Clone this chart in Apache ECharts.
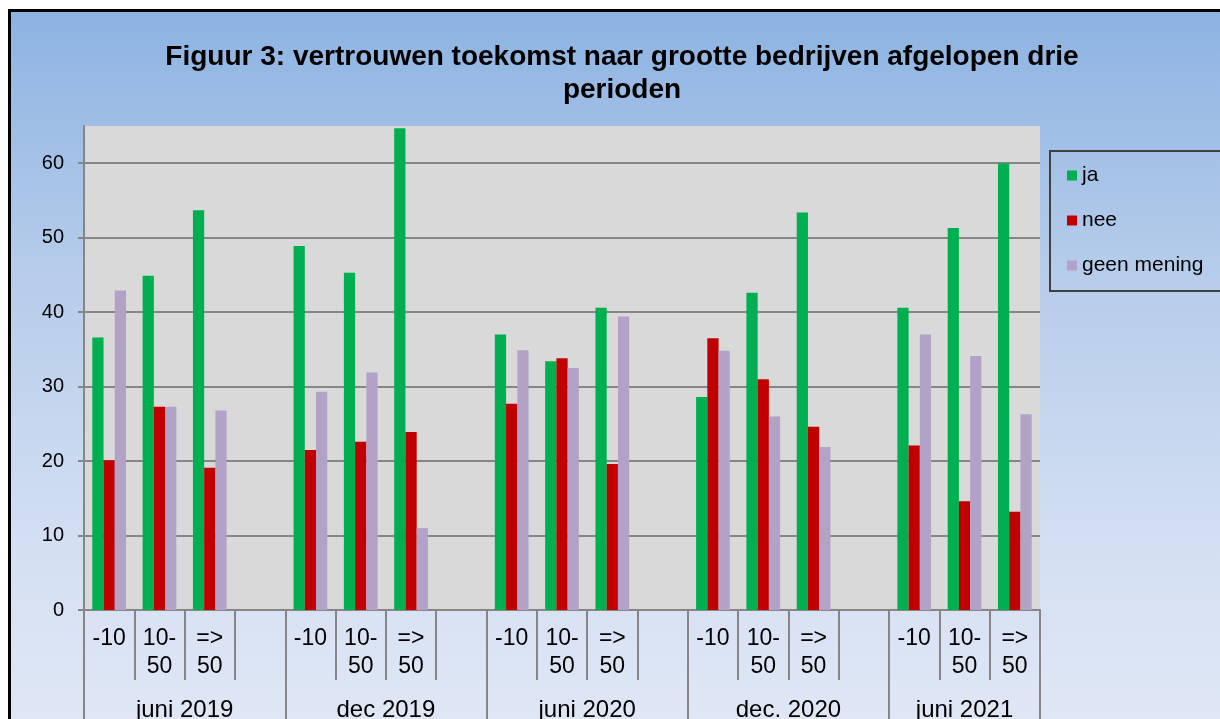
<!DOCTYPE html>
<html>
<head>
<meta charset="utf-8">
<script src="https://cdn.jsdelivr.net/npm/echarts@6/dist/echarts.min.js"></script>
<style>
  html, body { margin: 0; padding: 0; background: #fff; }
  #frame {
    position: absolute; left: 8px; top: 9px; width: 1212px; height: 710px;
    box-sizing: border-box; border-left: 3px solid #000; border-top: 3px solid #000;
    background: linear-gradient(to bottom, #8db3e2 0%, #b4cbea 35%, #d3dff2 75%, #dfe7f5 100%);
  }
  #chart { position: absolute; left: 0; top: 0; width: 1220px; height: 719px; }
</style>
</head>
<body>
<div id="frame"></div>
<div id="chart"></div>
<script>
const periods = ["juni 2019", "dec 2019", "juni 2020", "dec. 2020", "juni 2021"];
const sizeLabels = ["-10", "10-\n50", "=>\n50"];

// one value per size class, per period (null = spacer between periods)
const ja = [36.6, 44.9, 53.7, null, 48.9, 45.3, 64.7, null, 37.0, 33.4, 40.6, null, 28.6, 42.6, 53.4, null, 40.6, 51.3, 60.0];
const nee = [20.1, 27.3, 19.1, null, 21.5, 22.6, 23.9, null, 27.7, 33.8, 19.6, null, 36.5, 31.0, 24.6, null, 22.1, 14.6, 13.2];
const geenMening = [42.9, 27.3, 26.8, null, 29.3, 31.9, 11.0, null, 34.9, 32.5, 39.4, null, 34.8, 26.0, 21.9, null, 37.0, 34.1, 26.3];

const FONT = "'Liberation Sans', Arial, sans-serif";
const GRID_GRAY = "#868686";

// inner axis: size classes with a blank slot between periods
const categories = [];
periods.forEach((p, i) => {
  categories.push(...sizeLabels);
  if (i < periods.length - 1) categories.push("");
});

// outer axis: half-slot positions so period labels can sit between slots
const halfSlots = categories.length * 2 + 1;
const periodData = new Array(halfSlots).fill("");
const periodEdges = [0];
const periodCenters = [];
let start = 0;
periods.forEach((p, i) => {
  const width = i < periods.length - 1 ? sizeLabels.length + 1 : sizeLabels.length;
  const center = start * 2 + width;
  periodData[center] = p;
  periodCenters.push(center);
  start += width;
  periodEdges.push(start * 2);
});

const chart = echarts.init(document.getElementById("chart"), null, { renderer: "canvas" });
chart.setOption({
  backgroundColor: "transparent",
  animation: false,
  textStyle: { fontFamily: FONT },
  title: {
    text: "Figuur 3: vertrouwen toekomst naar grootte bedrijven afgelopen drie\nperioden",
    left: 622,
    top: 41,
    padding: 0,
    textAlign: "center",
    textStyle: { fontFamily: FONT, fontSize: 28, fontWeight: "bold", lineHeight: 33, color: "#000" }
  },
  legend: {
    orient: "vertical",
    left: 1050,
    top: 151,
    padding: [14, 40, 15, 17],
    borderColor: "#404040",
    borderWidth: 2,
    itemWidth: 10,
    itemHeight: 10,
    itemGap: 24,
    icon: "rect",
    textStyle: { fontFamily: FONT, fontSize: 21, lineHeight: 21, color: "#000" },
    data: ["ja", "nee", "geen mening"]
  },
  grid: {
    left: 84, right: 180, top: 126, bottom: 109,
    outerBoundsMode: "none",
    containLabel: false,
    show: true, backgroundColor: "#d9d9d9", borderWidth: 0
  },
  xAxis: [
    {
      type: "category",
      data: categories,
      axisLine: { lineStyle: { color: GRID_GRAY, width: 2 } },
      axisTick: { show: true, interval: 0, length: 70, lineStyle: { color: GRID_GRAY, width: 2 } },
      axisLabel: { interval: 0, fontFamily: FONT, fontSize: 23, lineHeight: 28, margin: 15, color: "#000" },
      splitLine: { show: false }
    },
    {
      type: "category",
      data: periodData,
      boundaryGap: false,
      position: "bottom",
      axisLine: { show: false },
      axisTick: {
        interval: (i) => periodEdges.includes(i),
        length: 110,
        lineStyle: { color: GRID_GRAY, width: 2 }
      },
      axisLabel: {
        interval: (i) => periodCenters.includes(i),
        fontFamily: FONT, fontSize: 24, lineHeight: 24, margin: 88, color: "#000"
      },
      splitLine: { show: false }
    }
  ],
  yAxis: {
    type: "value",
    min: 0,
    max: 65,
    interval: 10,
    axisLine: { show: true, lineStyle: { color: GRID_GRAY, width: 2 } },
    axisTick: { show: true, length: 6, lineStyle: { color: GRID_GRAY, width: 2 } },
    axisLabel: { showMaxLabel: false, fontFamily: FONT, fontSize: 20, margin: 20, color: "#000" },
    splitLine: { showMaxLine: false, lineStyle: { color: GRID_GRAY, width: 2 } }
  },
  series: [
    { name: "ja", type: "bar", data: ja, itemStyle: { color: "#00b050" }, barGap: "0%", barCategoryGap: "33%" },
    { name: "nee", type: "bar", data: nee, itemStyle: { color: "#c00000" } },
    { name: "geen mening", type: "bar", data: geenMening, itemStyle: { color: "#b3a2c7" } }
  ]
});
</script>
</body>
</html>
